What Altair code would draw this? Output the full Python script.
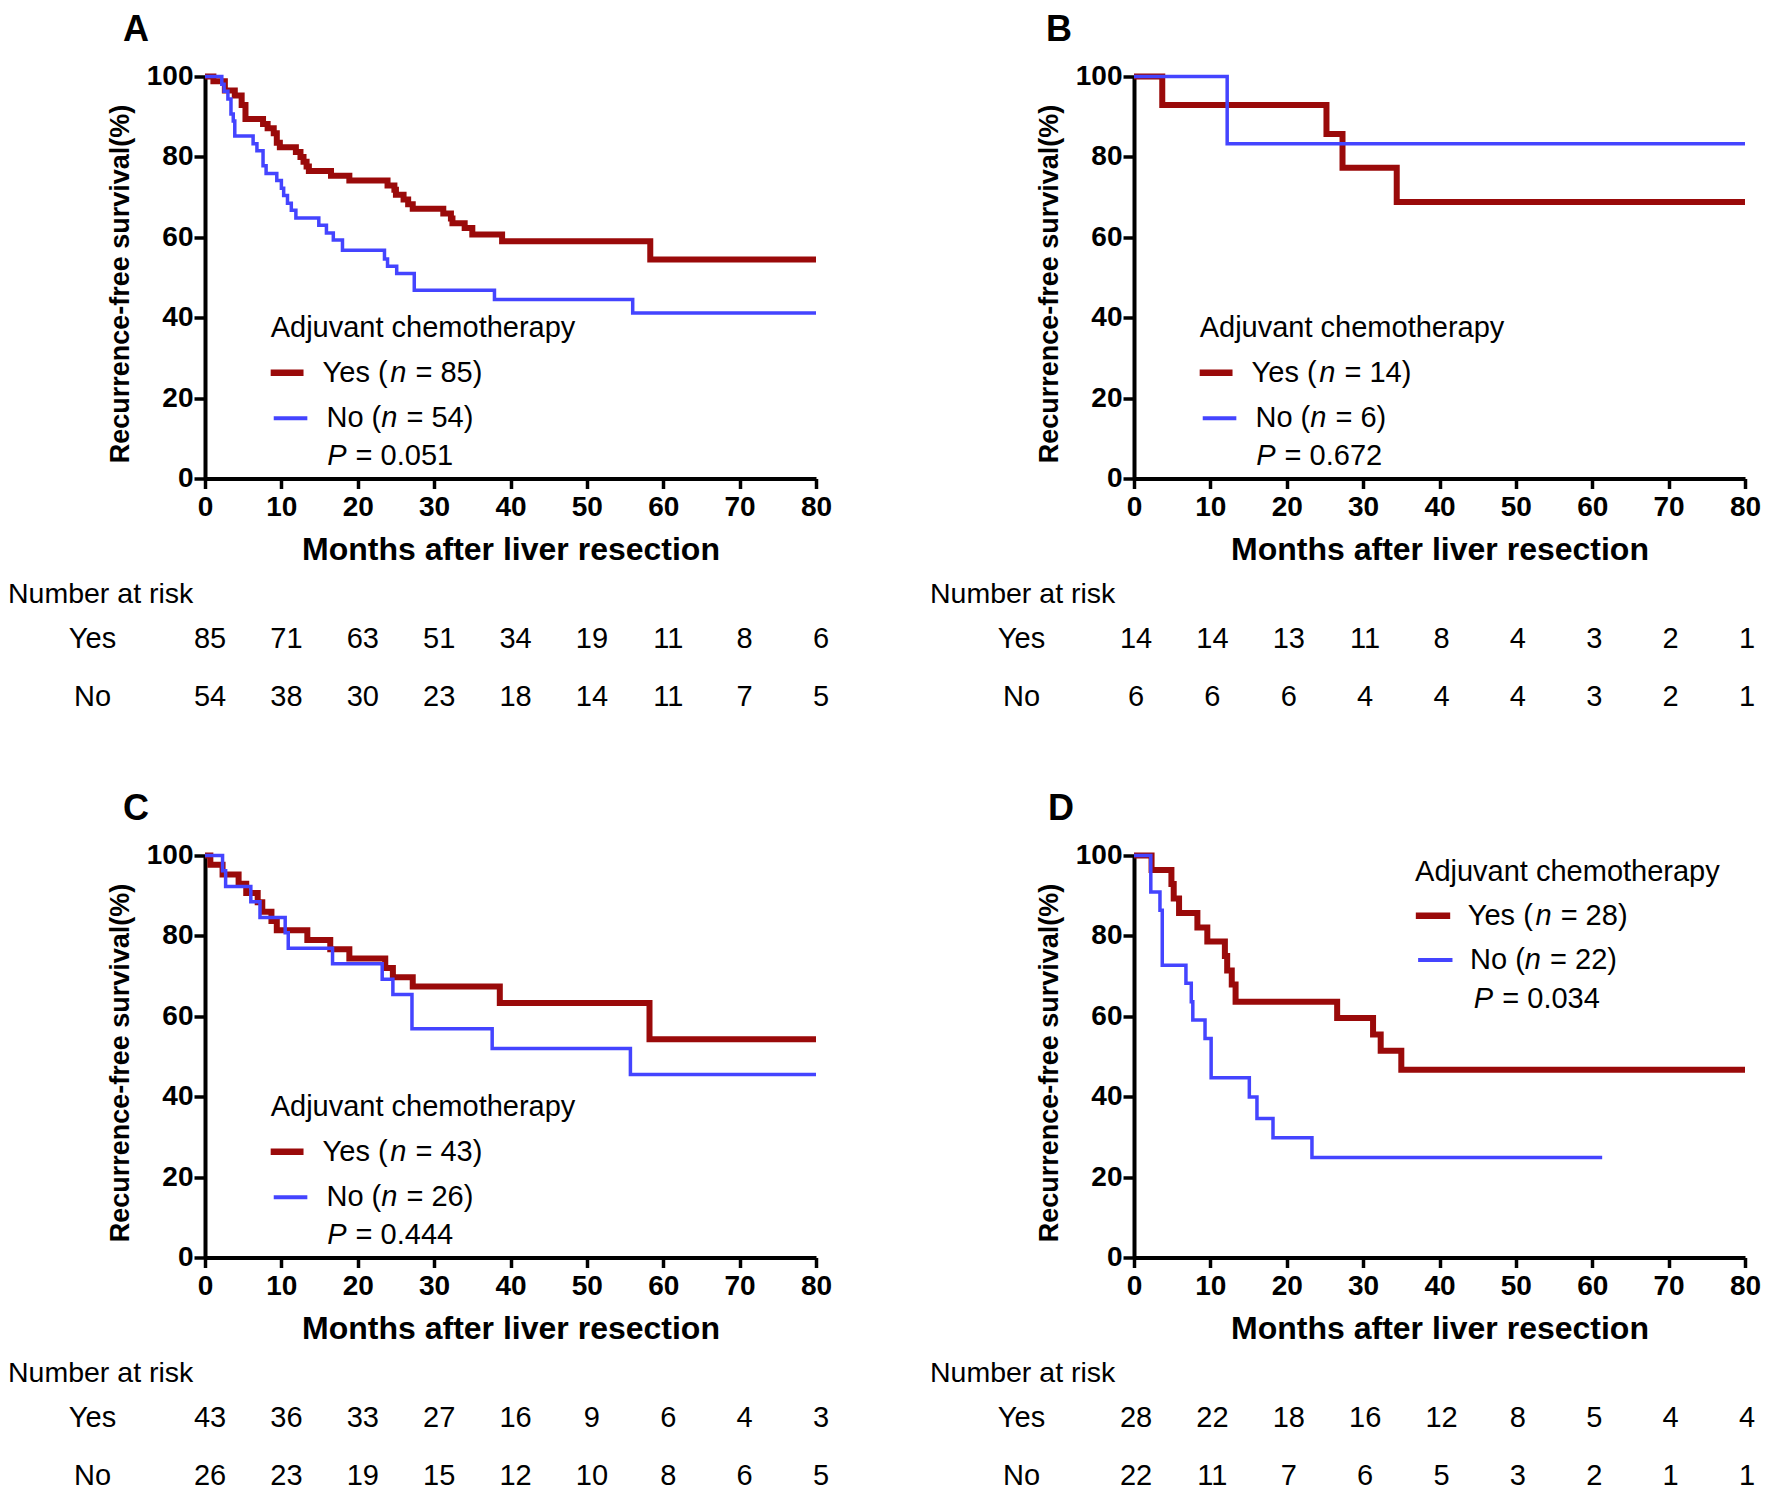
import altair as alt
import pandas as pd

RED = "#9A0A0A"
BLUE = "#4444FF"
FONT = "Liberation Sans"

TICKS_X = [0, 10, 20, 30, 40, 50, 60, 70, 80]
TICKS_Y = [0, 20, 40, 60, 80, 100]

# ---------------- Panel A ----------------
a_yes_t = [0, 1.1, 2.6, 3.9, 4.8, 5.3, 7.6, 8.2, 9.0, 9.4, 9.8, 11.9, 12.5, 12.9, 13.3, 13.6,
           16.5, 18.9, 23.9, 24.8, 25.0, 26.0, 26.6, 27.2, 31.2, 32.2, 32.4, 34.0, 35.0, 38.9, 58.3, 80]
a_yes_s = [100, 98.8, 96.5, 95.3, 92.9, 89.4, 88.2, 87.1, 85.9, 83.5, 82.4, 81.2, 80.0, 78.8, 77.6, 76.5,
           75.3, 74.1, 72.9, 71.8, 70.6, 69.4, 68.2, 67.1, 65.9, 64.7, 63.5, 62.3, 60.7, 59.0, 54.5, 54.5]
a_no_t = [0, 2.2, 2.5, 3.0, 3.4, 3.7, 3.9, 6.3, 6.8, 7.6, 8.0, 9.4, 10.0, 10.3, 10.8, 11.3, 11.9,
          14.9, 15.9, 16.8, 18.0, 23.5, 23.9, 25.1, 27.4, 37.9, 56.0, 80]
a_no_s = [100, 98.1, 96.3, 94.4, 90.7, 88.9, 85.2, 83.3, 81.5, 77.8, 75.9, 74.1, 72.2, 70.4, 68.5, 66.7, 64.8,
          63.0, 61.1, 59.3, 56.8, 54.6, 52.8, 51.0, 46.8, 44.5, 41.2, 41.2]
a_risk_yes = [85, 71, 63, 51, 34, 19, 11, 8, 6]
a_risk_no = [54, 38, 30, 23, 18, 14, 11, 7, 5]

# ---------------- Panel B ----------------
b_yes_t = [0, 3.7, 25.2, 27.3, 34.4, 80]
b_yes_s = [100, 92.9, 85.7, 77.3, 68.8, 68.8]
b_no_t = [0, 12.2, 80]
b_no_s = [100, 83.3, 83.3]
b_risk_yes = [14, 14, 13, 11, 8, 4, 3, 2, 1]
b_risk_no = [6, 6, 6, 4, 4, 4, 3, 2, 1]

# ---------------- Panel C ----------------
c_yes_t = [0, 0.7, 2.3, 4.4, 5.4, 6.9, 7.5, 8.7, 9.4, 13.4, 16.4, 18.9, 23.6, 24.6, 27.2, 38.6, 58.2, 80]
c_yes_s = [100, 97.7, 95.3, 93.0, 90.7, 88.4, 86.0, 83.7, 81.4, 79.0, 76.7, 74.4, 72.0, 69.7, 67.4, 63.3, 54.3, 54.3]
c_no_t = [0, 2.3, 2.7, 6.0, 7.2, 10.5, 10.9, 16.7, 23.2, 24.6, 27.1, 37.6, 55.7, 80]
c_no_s = [100, 96.2, 92.3, 88.5, 84.6, 80.8, 76.9, 73.1, 69.2, 65.4, 56.9, 52.0, 45.5, 45.5]
c_risk_yes = [43, 36, 33, 27, 16, 9, 6, 4, 3]
c_risk_no = [26, 23, 19, 15, 12, 10, 8, 6, 5]

# ---------------- Panel D ----------------
d_yes_t = [0, 2.3, 4.9, 5.2, 5.9, 8.3, 9.6, 11.9, 12.2, 12.8, 13.3, 26.6, 31.3, 32.3, 35.0, 80]
d_yes_s = [100, 96.4, 92.9, 89.3, 85.7, 82.1, 78.6, 75.0, 71.4, 67.9, 63.6, 59.6, 55.5, 51.4, 46.7, 46.7]
d_no_t = [0, 2.2, 3.4, 3.7, 6.8, 7.5, 7.7, 9.3, 10.1, 15.1, 16.1, 18.2, 23.3, 61.3]
d_no_s = [100, 90.9, 86.4, 72.7, 68.2, 63.6, 59.1, 54.5, 44.7, 39.9, 34.6, 29.8, 24.9, 24.9]
d_risk_yes = [28, 22, 18, 16, 12, 8, 5, 4, 4]
d_risk_no = [22, 11, 7, 6, 5, 3, 2, 1, 1]

# legend annotations (in data units: months, %)
legend_a = dict(n_yes=85, n_no=54, p="0.051", hx=8.6, hy=37.4, rx=[8.6, 12.9], ry=26.3, bx=[9.0, 13.4], by=15.0,
                tx_yes=15.4, tx_no=15.9, px=16.0, py=5.6)
legend_b = dict(n_yes=14, n_no=6, p="0.672", hx=8.6, hy=37.4, rx=[8.6, 12.9], ry=26.3, bx=[9.0, 13.4], by=15.0,
                tx_yes=15.4, tx_no=15.9, px=16.0, py=5.6)
legend_c = dict(n_yes=43, n_no=26, p="0.444", hx=8.6, hy=37.4, rx=[8.6, 12.9], ry=26.3, bx=[9.0, 13.4], by=15.0,
                tx_yes=15.4, tx_no=15.9, px=16.0, py=5.6)
legend_d = dict(n_yes=28, n_no=22, p="0.034", hx=36.8, hy=96.0, rx=[36.9, 41.4], ry=85.0, bx=[37.2, 41.7], by=74.0,
                tx_yes=43.7, tx_no=44.0, px=44.5, py=64.3)

W = 611
H = 402
RH = 116
FS_LEG = 29


def km_panel(letter, letter_dx, yes_t, yes_s, no_t, no_s, leg):
    x_enc = alt.X("month:Q",
                  scale=alt.Scale(domain=[0, 80], nice=False, zero=False),
                  axis=alt.Axis(values=TICKS_X, title="Months after liver resection", grid=False,
                                labelFont=FONT, labelFontSize=28, labelFontWeight="bold", labelColor="black",
                                labelFlush=False, labelOverlap=False, labelPadding=5,
                                titleFont=FONT, titleFontSize=32, titleFontWeight="bold", titleColor="black",
                                titlePadding=13, tickSize=10, tickWidth=3.5, tickColor="black",
                                domainWidth=4, domainColor="black"))
    y_enc = alt.Y("surv:Q",
                  scale=alt.Scale(domain=[0, 100], nice=False, zero=False),
                  axis=alt.Axis(values=TICKS_Y, title="Recurrence-free survival(%)", grid=False,
                                labelFont=FONT, labelFontSize=28, labelFontWeight="bold", labelColor="black",
                                labelPadding=1, labelOverlap=False,
                                titleFont=FONT, titleFontSize=27, titleFontWeight="bold", titleColor="black",
                                titlePadding=12, titleY=H / 2 + 6, tickSize=11, tickWidth=3.5, tickColor="black",
                                domainWidth=4, domainColor="black"))

    yes_df = pd.DataFrame({"month": yes_t, "surv": yes_s})
    no_df = pd.DataFrame({"month": no_t, "surv": no_s})

    red = alt.Chart(yes_df).mark_line(interpolate="step-after", color=RED, strokeWidth=6).encode(x=x_enc, y=y_enc)
    blue = alt.Chart(no_df).mark_line(interpolate="step-after", color=BLUE, strokeWidth=3.5).encode(x=x_enc, y=y_enc)

    head = alt.Chart(pd.DataFrame({"month": [leg["hx"]], "surv": [leg["hy"]], "t": ["Adjuvant chemotherapy"]})) \
        .mark_text(align="left", baseline="middle", font=FONT, fontSize=FS_LEG, color="black") \
        .encode(x=x_enc, y=y_enc, text="t:N")

    rule_df = pd.DataFrame({"month": [leg["rx"][0], leg["bx"][0]], "month2": [leg["rx"][1], leg["bx"][1]],
                            "surv": [leg["ry"], leg["by"]], "g": ["Yes", "No"]})
    rule_red = alt.Chart(rule_df[rule_df.g == "Yes"]).mark_rule(color=RED, strokeWidth=6.5) \
        .encode(x=x_enc, x2="month2:Q", y=y_enc)
    rule_blue = alt.Chart(rule_df[rule_df.g == "No"]).mark_rule(color=BLUE, strokeWidth=4) \
        .encode(x=x_enc, x2="month2:Q", y=y_enc)

    def piece_text(mx, sy, txt, dx, italic=False):
        return alt.Chart(pd.DataFrame({"month": [mx], "surv": [sy], "t": [txt]})) \
            .mark_text(align="left", baseline="middle", font=FONT, fontSize=FS_LEG, color="black",
                       dx=dx, fontStyle="italic" if italic else "normal") \
            .encode(x=x_enc, y=y_enc, text="t:N")

    em = FS_LEG
    sp = 0.278 * em
    w_yes = 2.334 * em
    w_no = 1.889 * em
    w_n = 0.556 * em + 1
    w_p = 0.667 * em + 1
    layers = [red, blue, head, rule_red, rule_blue,
              piece_text(leg["tx_yes"], leg["ry"], "Yes (", 0),
              piece_text(leg["tx_yes"], leg["ry"], "n", w_yes, True),
              piece_text(leg["tx_yes"], leg["ry"], "= %d)" % leg["n_yes"], w_yes + w_n + sp),
              piece_text(leg["tx_no"], leg["by"], "No (", 0),
              piece_text(leg["tx_no"], leg["by"], "n", w_no, True),
              piece_text(leg["tx_no"], leg["by"], "= %d)" % leg["n_no"], w_no + w_n + sp),
              piece_text(leg["px"], leg["py"], "P", 0, True),
              piece_text(leg["px"], leg["py"], "= " + leg["p"], w_p + sp)]
    return alt.layer(*layers).properties(
        width=W, height=H,
        title=alt.TitleParams(letter, anchor="start", frame="group", dx=letter_dx, offset=-14.5,
                              baseline="alphabetic", font=FONT, fontSize=36, fontWeight="bold", color="black"))


def risk_panel(yes, no, title_dx, num_dx):
    df = pd.DataFrame({"month": TICKS_X + TICKS_X, "group": ["Yes"] * 9 + ["No"] * 9, "count": yes + no})
    return alt.Chart(df).mark_text(font=FONT, fontSize=29, color="black", baseline="middle", dx=num_dx).encode(
        x=alt.X("month:Q", scale=alt.Scale(domain=[0, 80], nice=False, zero=False), axis=None),
        y=alt.Y("group:N", scale=alt.Scale(type="point", domain=["Yes", "No"], padding=0.5, align=0.509),
                axis=alt.Axis(title=None, domain=False, ticks=False, labelFont=FONT, labelFontSize=29,
                              labelColor="black", labelAlign="center", labelPadding=113)),
        text="count:Q"
    ).properties(width=W, height=RH,
                 title=alt.TitleParams("Number at risk", anchor="start", frame="group", dx=title_dx, offset=-22.3,
                                       baseline="alphabetic", font=FONT, fontSize=28.5, fontWeight="normal",
                                       color="black"))


kmA = km_panel("A", -82, a_yes_t, a_yes_s, a_no_t, a_no_s, legend_a)
kmB = km_panel("B", -88, b_yes_t, b_yes_s, b_no_t, b_no_s, legend_b)
kmC = km_panel("C", -82, c_yes_t, c_yes_s, c_no_t, c_no_s, legend_c)
kmD = km_panel("D", -86, d_yes_t, d_yes_s, d_no_t, d_no_s, legend_d)
rA = risk_panel(a_risk_yes, a_risk_no, -197, 5)
rB = risk_panel(b_risk_yes, b_risk_no, -204, 2)
rC = risk_panel(c_risk_yes, c_risk_no, -197, 5)
rD = risk_panel(d_risk_yes, d_risk_no, -204, 2)

chart = alt.concat(kmA, kmB, rA, rB, kmC, kmD, rC, rD, columns=2,
                   spacing={"row": 130.5, "column": 318}, bounds="flush") \
    .properties(padding={"left": 0, "top": 3.5, "right": 0, "bottom": 0}) \
    .configure(background="white") \
    .configure_view(strokeWidth=0, stroke="transparent")

chart.save("out.html", embed_options={"renderer": "svg", "actions": False})
